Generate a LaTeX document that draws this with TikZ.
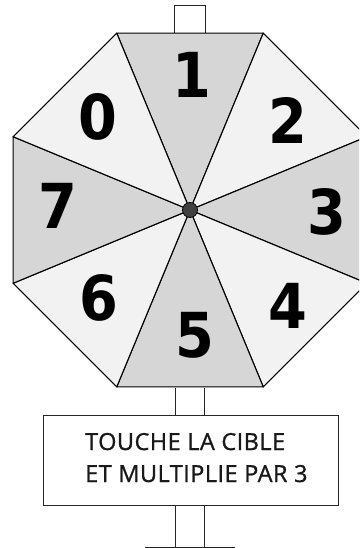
\documentclass[tikz,border=0pt]{standalone}
\usepackage{fontspec}
\usetikzlibrary{calc}
\newfontfamily\digitfont{DejaVu Sans Condensed}
\newfontfamily\signfont{Open Sans}[FakeBold=1,LetterSpace=2]
\definecolor{darkseg}{HTML}{D6D6D6}
\definecolor{lightseg}{HTML}{F2F2F2}
\definecolor{hubcol}{HTML}{404040}
\begin{document}
\begin{tikzpicture}[x=1pt,y=-1pt,
  segline/.style={draw=black,line width=1.1pt,line join=round},
  postline/.style={draw=black!85,line width=1pt},
  digit/.style={font=\digitfont\bfseries\fontsize{62}{62}\selectfont,inner sep=0pt,anchor=center},
  signtext/.style={font=\signfont\fontsize{23.5}{23.5}\selectfont,inner sep=0pt,anchor=base west,text=black!90}]
\useasboundingbox (0,0) rectangle (359,548);
\fill[white] (0,0) rectangle (359,548);
\clip (0,0) rectangle (359,548);
\coordinate (C) at (190,210);
% top stub
\draw[postline] (174,33) -- (174,6) -- (205,6) -- (205,33);
% sectors
\foreach \a/\col in {270/darkseg,315/lightseg,0/darkseg,45/lightseg,90/darkseg,135/lightseg,180/darkseg,225/lightseg}{
  \filldraw[segline,fill=\col] (C) -- ($(C)+(\a-22.5:191.5)$) -- ($(C)+(\a+22.5:191.5)$) -- cycle;
}
% labels
\node[digit] (d1) at (192,75) {1};
\node[digit] (d0) at (98,117) {0};
\node[digit] (d2) at (288,120) {2};
\node[digit] (d7) at (58,206) {7};
\node[digit] (d3) at (327,212) {3};
\node[digit] (d6) at (99,298) {6};
\node[digit] (d5) at (195,335) {5};
\node[digit] (d4) at (288,306) {4};
% hub
\filldraw[fill=hubcol,draw=black,line width=0.8pt] (C) circle (7.5);
% post
\draw[postline] (175,388) -- (175,415) (204,388) -- (204,415);
\draw[postline] (175,505) -- (175,547) (204,505) -- (204,547);
\draw[postline] (145,547) -- (235,547);
% sign
\draw[postline,fill=white] (43,415) rectangle (338,505);
\node[signtext] (t1) at (85,450) {TOUCHE LA CIBLE};
\node[signtext] (t2) at (85,482) {ET MULTIPLIE PAR 3};
\end{tikzpicture}
\end{document}
